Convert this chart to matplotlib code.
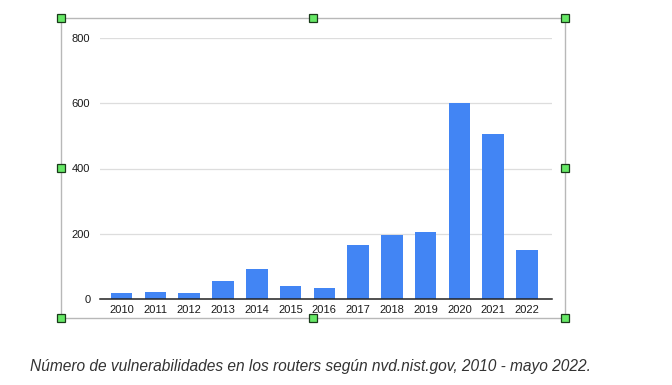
import matplotlib.pyplot as plt
from matplotlib.patches import Rectangle

# Datos
anios = ["2010", "2011", "2012", "2013", "2014", "2015", "2016",
         "2017", "2018", "2019", "2020", "2021", "2022"]
vulnerabilidades = [17, 20, 19, 56, 92, 40, 34, 165, 196, 205, 600, 505, 149]
marcas_y = [0, 200, 400, 600, 800]
titulo = "Número de vulnerabilidades en los routers según nvd.nist.gov, 2010 - mayo 2022."

W, H = 672, 385
fig = plt.figure(figsize=(W / 100, H / 100), dpi=100)
plt.rcParams['font.family'] = ['Liberation Sans', 'DejaVu Sans']

# Área del gráfico
ax = fig.add_axes([100 / W, (H - 299) / H, 452 / W, 261 / H])
x = range(len(anios))
ax.bar(x, vulnerabilidades, width=0.64, color='#4285F4', zorder=3)
ax.set_xlim(-0.64, len(anios) - 1 + 0.74)
ax.set_ylim(0, 800)
ax.set_yticks(marcas_y)
ax.set_xticks(list(x))
ax.set_xticklabels(anios)
ax.yaxis.grid(True, color='#dddddd', linewidth=0.9, zorder=0)
for s in ['top', 'right', 'left']:
    ax.spines[s].set_visible(False)
ax.spines['bottom'].set_color('#222222')
ax.spines['bottom'].set_linewidth(1.1)
ax.spines['bottom'].set_zorder(4)
ax.tick_params(axis='both', length=0, labelsize=8, colors='#1a1a1a')
ax.tick_params(axis='y', pad=7)
ax.tick_params(axis='x', pad=4)

# Marco de selección con tiradores verdes
over = fig.add_axes([0, 0, 1, 1], facecolor='none')
over.set_xlim(0, W)
over.set_ylim(H, 0)
over.axis('off')
over.add_patch(Rectangle((61, 18), 504, 300, fill=False, edgecolor='#b8b8b8', linewidth=1))
for hx in (61, 313, 565):
    for hy in (18, 168, 318):
        if hx == 313 and hy == 168:
            continue
        over.add_patch(Rectangle((hx - 4, hy - 4), 8, 8, facecolor='#66e866',
                                 edgecolor='#1a3a1a', linewidth=0.9, zorder=5))

fig.text(30 / W, 1 - 366 / H, titulo, fontsize=11.2, style='italic',
         color='#333333', va='center', ha='left')

fig.savefig('out.png', dpi=100)
